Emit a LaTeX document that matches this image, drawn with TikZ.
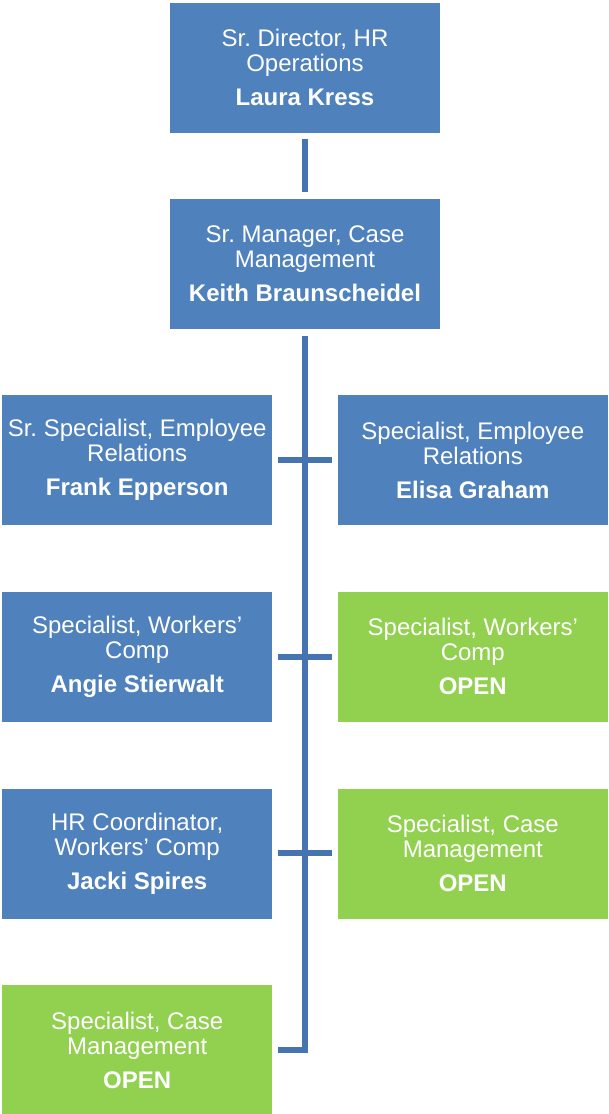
\documentclass[tikz,border=0pt]{standalone}
\usepackage{fontspec}
\setmainfont{Liberation Sans}
\frenchspacing
\usetikzlibrary{positioning}
\definecolor{rolefill}{RGB}{79,129,189}
\definecolor{openfill}{RGB}{146,208,80}
\definecolor{linkcol}{RGB}{70,116,176}

\begin{document}
\begin{tikzpicture}[
  node distance=65pt,
  box/.style={draw=white,line width=0.6pt,fill=rolefill,text=white,
              minimum width=271pt,minimum height=131pt,inner sep=0pt,
              align=center,font=\fontsize{24}{25}\selectfont},
  openbox/.style={box,fill=openfill},
  conn/.style={linkcol,line width=6pt}
]
\useasboundingbox (0pt,0pt) rectangle (608pt,-1114pt);

\node[box] (dir) at (305pt,-67.5pt)
  {Sr. Director, HR\\Operations\\[9pt]\textbf{Laura Kress}};
\node[box,below=65pt of dir] (mgr)
  {Sr. Manager, Case\\Management\\[9pt]\textbf{Keith Braunscheidel}};

% left and right columns
\node[box,below left=64.5pt and 32pt of mgr.south] (frank)
  {Sr. Specialist, Employee\\Relations\\[9pt]\textbf{Frank Epperson}};
\node[box,below right=64.5pt and 32pt of mgr.south] (elisa)
  {Specialist, Employee\\Relations\\[9pt]\textbf{Elisa Graham}};
\node[box,below=of frank] (angie)
  {Specialist, Workers’\\Comp\\[9pt]\textbf{Angie Stierwalt}};
\node[openbox,below=of elisa] (wcopen)
  {Specialist, Workers’\\Comp\\[9pt]\textbf{OPEN}};
\node[box,below=of angie] (jacki)
  {HR Coordinator,\\Workers’ Comp\\[9pt]\textbf{Jacki Spires}};
\node[openbox,below=of wcopen] (cmopenr)
  {Specialist, Case\\Management\\[9pt]\textbf{OPEN}};
\node[openbox,below=of jacki] (cmopenl)
  {Specialist, Case\\Management\\[9pt]\textbf{OPEN}};

\draw[conn] ([yshift=-6pt]dir.south) -- ([yshift=6pt]mgr.north);
\draw[conn] ([yshift=-6pt]mgr.south) |- ([xshift=5pt]cmopenl.east);
\draw[conn] ([xshift=5pt]frank.east) -- ([xshift=-5pt]elisa.west);
\draw[conn] ([xshift=5pt]angie.east) -- ([xshift=-5pt]wcopen.west);
\draw[conn] ([xshift=5pt]jacki.east) -- ([xshift=-5pt]cmopenr.west);
\end{tikzpicture}
\end{document}
